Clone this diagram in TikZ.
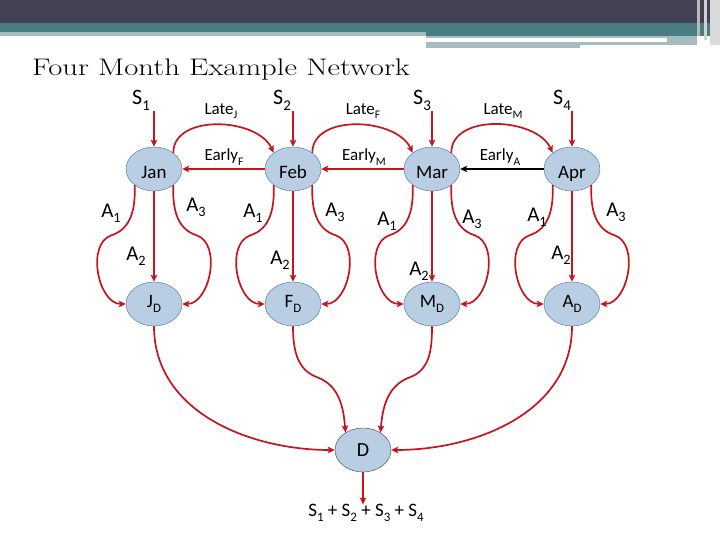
\documentclass[tikz,border=0pt]{standalone}
\usepackage{fontspec}
\usepackage{graphicx}
\usepackage{tikz}
\usetikzlibrary{shapes.geometric, arrows.meta}
\newfontfamily\calibri{Carlito}
\newcommand{\dsub}[1]{\raisebox{-0.25em}{\scalebox{0.68}{#1}}}
\definecolor{barDark}{RGB}{67, 66, 84}
\definecolor{barTeal}{RGB}{72, 126, 130}
\definecolor{barLight}{RGB}{166, 189, 191}
\definecolor{monthFill}{RGB}{185, 205, 227}
\definecolor{monthEdge}{RGB}{65, 113, 156}
\definecolor{flowRed}{RGB}{200, 20, 30}

\begin{document}
\begin{tikzpicture}[x=1pt, y=1pt,
    month/.style={ellipse, draw=monthEdge, fill=monthFill, minimum width=56pt,
      minimum height=44pt, inner sep=0pt, font=\calibri\fontsize{19}{19}\selectfont},
    topmonth/.style={month, text height=20pt, text depth=0pt},
    flow/.style={draw=flowRed, line width=1.7pt,
      -{Stealth[length=7pt, width=6.5pt, inset=1.5pt]}},
    alabel/.style={font=\calibri\fontsize{21}{21}\selectfont, inner sep=0pt},
    slabel/.style={font=\calibri\fontsize{22}{22}\selectfont, inner sep=0pt, anchor=base west},
    tlabel/.style={font=\calibri\fontsize{17}{17}\selectfont, inner sep=0pt}]
    \useasboundingbox (0,0) rectangle (720,540);
    \fill[white] (0,0) rectangle (720,540);

    % header bars
    \fill[barDark] (0,517) rectangle (720,540);
    \fill[barTeal] (0,504) rectangle (720,517);
    \fill[barLight] (0,504) rectangle (426,508);
    \fill[barLight] (426,495) rectangle (697,504);
    \fill[barLight] (426,492) rectangle (580,498);
    \fill[white] (426,498) rectangle (667,502);
    \fill[gray!55] (697,504) rectangle (700,540);
    \fill[gray!35] (704,500) rectangle (707,540);
    \fill[gray!30] (710,495) rectangle (720,540);

    \node[anchor=base west, inner sep=0pt, font=\fontsize{24}{28}\selectfont]
      (title) at (32,464) {\scalebox{1.28}[1]{Four Month Example Network}};

    % months
    \node[topmonth] (jan) at (154,371) {Jan};
    \node[topmonth] (feb) at (293,371) {Feb};
    \node[topmonth] (mar) at (432,371) {Mar};
    \node[topmonth] (apr) at (572,371) {Apr};
    \node[month] (jd) at (154,236) {J\dsub{D}};
    \node[month] (fd) at (293,236) {F\dsub{D}};
    \node[month] (md) at (432,236) {M\dsub{D}};
    \node[month] (ad) at (572,236) {A\dsub{D}};
    \node[month, draw=black!75, font=\calibri\fontsize{20}{20}\selectfont] (d) at (363,90) {D};
    \node[font=\calibri\fontsize{19}{19}\selectfont, inner sep=0pt, anchor=base] (sum) at (366,23)
      {S\dsub{1} + S\dsub{2} + S\dsub{3} + S\dsub{4}};

    % supplies
    \node[slabel] (s1) at (132,435) {S\dsub{1}};
    \node[slabel] (s2) at (273,435) {S\dsub{2}};
    \node[slabel] (s3) at (413,435) {S\dsub{3}};
    \node[slabel] (s4) at (553,435) {S\dsub{4}};
    \draw[flow] (s1.south -| jan.north) -- (jan.north);
    \draw[flow] (s2.south -| feb.north) -- (feb.north);
    \draw[flow] (s3.south -| mar.north) -- (mar.north);
    \draw[flow] (s4.south -| apr.north) -- (apr.north);

    % late and early
    \draw[flow] (jan.40) to[out=90, in=115] (feb.140);
    \draw[flow] (feb.40) to[out=90, in=115] (mar.140);
    \draw[flow] (mar.40) to[out=90, in=115] (apr.140);
    \draw[flow] (feb.west) -- (jan.east);
    \draw[flow] (mar.west) -- (feb.east);
    \draw[flow, draw=black] (apr.west) -- (mar.east);
    \node[tlabel] (lj) at (221,429) {Late\dsub{J}};
    \node[tlabel] (lf) at (363,429) {Late\dsub{F}};
    \node[tlabel] (lm) at (503,429) {Late\dsub{M}};
    \node[tlabel] (ef) at (224,383) {Early\dsub{F}};
    \node[tlabel] (em) at (364,383) {Early\dsub{M}};
    \node[tlabel] (ea) at (500,383) {Early\dsub{A}};

    % alternatives
    \draw[flow] (jan.220) to[out=-88, in=18] ++(-23,-50) to[out=198, in=180] (jd.west);
    \draw[flow] (jan.south) -- (jd.north);
    \draw[flow] (jan.-40) to[out=-92, in=162] ++(23,-50) to[out=-18, in=0] (jd.east);
    \draw[flow] (feb.220) to[out=-88, in=18] ++(-23,-50) to[out=198, in=180] (fd.west);
    \draw[flow] (feb.south) -- (fd.north);
    \draw[flow] (feb.-40) to[out=-92, in=162] ++(23,-50) to[out=-18, in=0] (fd.east);
    \draw[flow] (mar.220) to[out=-88, in=18] ++(-23,-50) to[out=198, in=180] (md.west);
    \draw[flow] (mar.south) -- (md.north);
    \draw[flow] (mar.-40) to[out=-92, in=162] ++(23,-50) to[out=-18, in=0] (md.east);
    \draw[flow] (apr.220) to[out=-88, in=18] ++(-23,-50) to[out=198, in=180] (ad.west);
    \draw[flow] (apr.south) -- (ad.north);
    \draw[flow] (apr.-40) to[out=-92, in=162] ++(23,-50) to[out=-18, in=0] (ad.east);

    \node[alabel] (j1) at (111,327) {A\dsub{1}};
    \node[alabel] (j2) at (136,284) {A\dsub{2}};
    \node[alabel] (j3) at (196,333) {A\dsub{3}};
    \node[alabel] (f1) at (253,327) {A\dsub{1}};
    \node[alabel] (f2) at (280,280) {A\dsub{2}};
    \node[alabel] (f3) at (335,328) {A\dsub{3}};
    \node[alabel] (m1) at (387,319) {A\dsub{1}};
    \node[alabel] (m2) at (419,269) {A\dsub{2}};
    \node[alabel] (m3) at (472,321) {A\dsub{3}};
    \node[alabel] (a1) at (537,323) {A\dsub{1}};
    \node[alabel] (a2) at (561,285) {A\dsub{2}};
    \node[alabel] (a3) at (616,328) {A\dsub{3}};

    % to the final demand
    \draw[flow] (jd.south) to[out=-90, in=180] (d.west);
    \draw[flow] (fd.south) to[out=-90, in=160] ++(24,-51) to[out=-20, in=95] (d.135);
    \draw[flow] (md.south) to[out=-90, in=20] ++(-22,-51) to[out=200, in=85] (d.45);
    \draw[flow] (ad.south) to[out=-90, in=0] (d.east);
    \draw[flow] (d.south) -- (d.south |- sum.north);
\end{tikzpicture}
\end{document}
